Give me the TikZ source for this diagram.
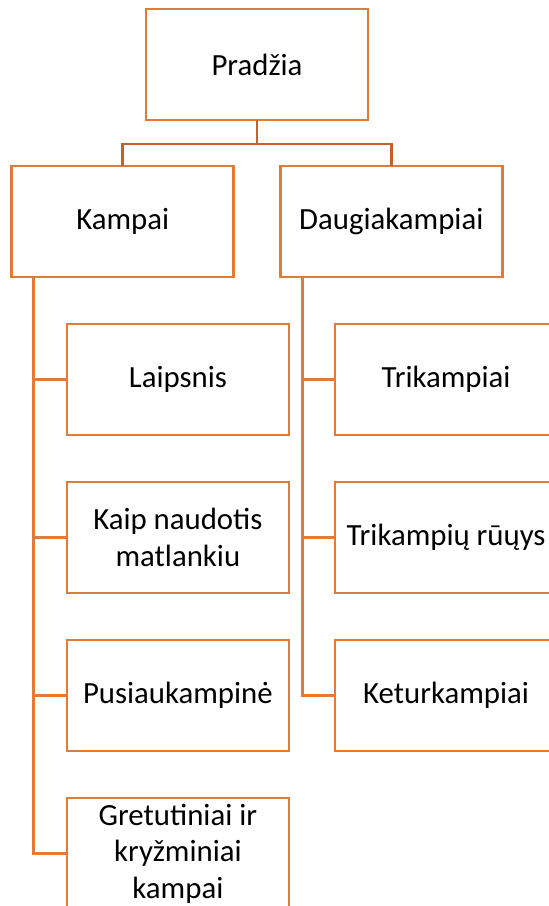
\documentclass[tikz,border=0pt]{standalone}
\usepackage{fontspec}
\setmainfont{Carlito}
\usetikzlibrary{positioning}
\definecolor{boxorange}{HTML}{E07B39}
\definecolor{forkorange}{HTML}{C4622B}
\tikzset{
  topic/.style={rectangle, draw=boxorange, line width=1.25pt, fill=white, minimum width=111pt, minimum height=55.5pt, align=center, inner sep=2pt, outer sep=0pt, font=\fontsize{15.4}{18.3}\selectfont},
  fork/.style={draw=forkorange, line width=1.25pt},
  branch/.style={draw=boxorange, line width=1.25pt},
}

\begin{document}
\begin{tikzpicture}[x=0.5pt,y=-0.5pt,node distance=23.5pt and 23.3pt]
\useasboundingbox (0,0) rectangle (549,906);
\clip (0,0) rectangle (549,906);
\node[topic, anchor=north west] (start) at (146,9) {Pradžia};
\node[topic, anchor=north west] (kampai) at (11.7,166) {Kampai};
\node[topic, right=of kampai] (daug) {Daugiakampiai};
% left column
\node[topic, below right=23.5pt and 27.6pt of kampai.south west] (laipsnis) {Laipsnis};
\node[topic, below=of laipsnis] (matlankis) {Kaip naudotis\\matlankiu};
\node[topic, below=of matlankis] (pusiau) {Pusiaukampinė};
\node[topic, below=of pusiau] (gretut) {Gretutiniai ir\\kryžminiai\\kampai};
% right column
\node[topic, below right=23.5pt and 27.4pt of daug.south west] (trik) {Trikampiai};
\node[topic, below=of trik] (rusys) {Trikampių rūųys};
\node[topic, below=of rusys] (ketur) {Keturkampiai};
% connectors
\draw[fork] (start.south) -- ++(0,24) coordinate (split) -| (kampai.north);
\draw[fork] (split) -| (daug.north);
\foreach \child in {laipsnis, matlankis, pusiau, gretut}
  \draw[branch] ([xshift=10.9pt]kampai.south west) |- (\child.west);
\foreach \child in {trik, rusys, ketur}
  \draw[branch] ([xshift=11pt]daug.south west) |- (\child.west);
\end{tikzpicture}
\end{document}
